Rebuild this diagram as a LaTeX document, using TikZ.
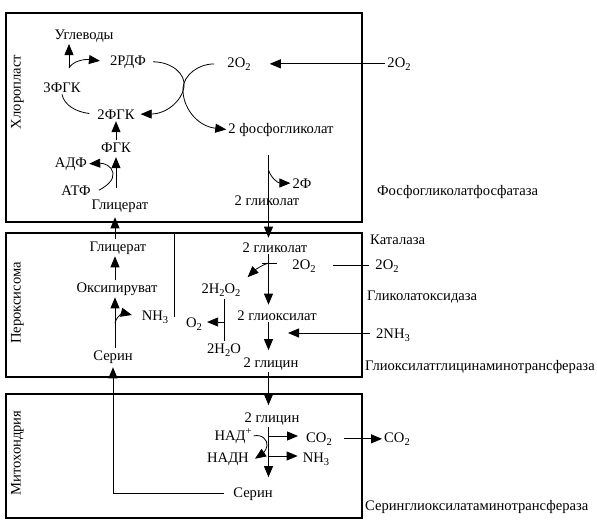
\documentclass[tikz,border=0pt]{standalone}
\usepackage{fontspec}
\setmainfont{Liberation Serif}
\usetikzlibrary{arrows.meta}
\newcommand\dn[1]{\raisebox{-0.5ex}{\fontsize{10.5}{10}\selectfont #1}}
\newcommand\upx[1]{\raisebox{0.8ex}{\fontsize{10.5}{10}\selectfont #1}}
\begin{document}
\begin{tikzpicture}[x=1pt,y=-1pt,
  every node/.style={font=\fontsize{14.6}{16}\selectfont, inner sep=2pt, anchor=base},
  vlbl/.style={rotate=90, anchor=center},
  enz/.style={anchor=base west, inner sep=0pt},
  arr/.style={line width=0.8pt, -{Triangle[length=11pt,width=9pt]}},
  ln/.style={line width=0.8pt},
  box/.style={line width=1.1pt}]
\useasboundingbox (0,0) rectangle (597,522);
\fill[white] (0,0) rectangle (597,522);

% compartments
\draw[box] (6,222) -- (6,13) -- (362,13) -- (362,222);
\draw[line width=2.4pt] (5,222) -- (363,222);
\draw[box] (6,233) rectangle (362,377);
\draw[box] (6,394) rectangle (362,518);

% columns
\coordinate (cP) at (115,0);
\coordinate (cR) at (268.5,0);
\coordinate (cH) at (224,0);

% ---------- chloroplast ----------
\node[vlbl] (chl) at (17.5,92) {Хлоропласт};
\node (uglev) at (84,39) {Углеводы};
\node (rdf) at (128,65) {2РДФ};
\node (o2a) at (239,67) {2O\dn{2}};
\node (o2b) at (399,67) {2O\dn{2}};
\node (fgk3) at (62,92) {3ФГК};
\node (fgk2) at (116,119) {2ФГК};
\node (pgl) at (281,133) {2 фосфогликолат};
\node (fgk) at (116,152) {ФГК};
\node (adf) at (71,167) {АДФ};
\node (atf) at (76,195) {АТФ};
\node (glc1) at (120,209) {Глицерат};
\node (f2) at (302,188) {2Ф};
\node (gl1) at (267,205) {2 гликолат};
\node[enz] (e1) at (377,195) {Фосфогликолатфосфатаза};

% ---------- peroxisome ----------
\node[vlbl] (per) at (17.5,303) {Пероксисома};
\node (glc2) at (118,251) {Глицерат};
\node (oxp) at (117,292) {Оксипируват};
\node (nh3a) at (155,320) {NH\dn{3}};
\node (serP) at (113,360) {Серин};
\node (gl2) at (275,252) {2 гликолат};
\node (o2c) at (304,269) {2O\dn{2}};
\node (o2d) at (387,269) {2O\dn{2}};
\node[enz] (e2) at (370,244) {Каталаза};
\node[enz] (e3) at (367,300) {Гликолатоксидаза};
\node (h2o2) at (221,293) {2H\dn{2}O\dn{2}};
\node (o2e) at (194,327) {O\dn{2}};
\node (h2o) at (224,353) {2H\dn{2}O};
\node (glx) at (277,320) {2 глиоксилат};
\node (nh3b) at (393,338) {2NH\dn{3}};
\node (gly1) at (271,367) {2 глицин};
\node[enz] (e4) at (365,370) {Глиоксилатглицинаминотрансфераза};

% ---------- mitochondrion ----------
\node[vlbl] (mit) at (17.5,453) {Митохондрия};
\node (gly2) at (272,422) {2 глицин};
\node (nad) at (233,440) {НАД\upx{+}};
\node (nadh) at (228,462) {НАДН};
\node (co2a) at (319,442) {CO\dn{2}};
\node (nh3c) at (316,462) {NH\dn{3}};
\node (co2b) at (397,442) {CO\dn{2}};
\node (serM) at (253,497) {Серин};
\node[enz] (e5) at (365,510) {Серинглиоксилатаминотрансфераза};

% ---------- connectors: chloroplast ----------
\coordinate (k1) at (69,68);
\draw[arr] (k1) -- (k1 |- uglev.south);
\draw[arr, shorten >=8pt] (k1) .. controls (73,61) and (84,59) .. (rdf.west);
\draw[arr, shorten <=5pt, shorten >=4pt] (rdf.east) .. controls (172,62) and (186,74) .. (184,87)
   .. controls (182,101) and (166,114) .. (fgk2.east);
\draw[ln, shorten >=6pt] (fgk3.south) .. controls (64,105) and (76,112) .. (fgk2.west);
\draw[arr, shorten <=11pt] (o2a.west) .. controls (198,64) and (184,75) .. (183,88)
   .. controls (182,106) and (196,126) .. (pgl.west);
\draw[arr, shorten >=17pt] (o2b.west) -- (o2a.east);
\draw[arr] (fgk.north) -- (fgk2.south);
\draw[arr, shorten <=9pt, shorten >=3pt] (glc1.north -| fgk.south) -- (fgk.south);
\draw[arr] ([xshift=6pt]atf.east) .. controls (107,186) and (114,180) .. (113,173)
   .. controls (112,166) and (104,163) .. (adf.east);
\draw[arr, shorten <=17pt, shorten >=2.5pt] (pgl.south -| cR) -- (gl2.north -| cR);
\coordinate (k4) at (268.5,170);
\draw[arr] (k4) .. controls (271,178) and (278,183) .. (f2.west);

% ---------- connectors: peroxisome ----------
\draw[arr, shorten >=3pt] (glc2.north -| cP) -- (glc1.south -| cP);
\draw[arr] (oxp.north -| cP) -- (glc2.south -| cP);
\draw[arr] (serP.north -| cP) -- (oxp.south -| cP);
\coordinate (k3) at (115,323);
\draw[arr, shorten >=8pt] (k3) .. controls (117,315) and (124,313) .. (nh3a.west);
\draw[arr, shorten <=7pt, shorten >=2pt] (serM.west) -| (serP.south);
\draw[ln] (174,233) -- (174,317);
\draw[arr, shorten >=3.5pt] (gl2.south -| cR) -- (glx.north -| cR);
\coordinate (k5) at (268.5,263);
\draw[ln] (262,263) -- (277,263);
\draw[arr] (k5) .. controls (262,265) and (255,270) .. ([shift={(5,-4)}]h2o2.north east);
\draw[ln, shorten <=4pt, shorten >=15pt] (o2d.west) -- (o2c.east);
\draw[ln] (h2o2.south -| cH) -- (h2o.north -| cH);
\coordinate (k9) at (224,322);
\draw[arr, shorten >=3pt] (k9) -- (k9 -| o2e.east);
\draw[arr, shorten >=5pt] (glx.south -| cR) -- (gly1.north -| cR);
\coordinate (k6) at (288,333);
\coordinate (k6b) at (370,333);
\draw[arr] (k6b) -- (k6);
\draw[arr, shorten >=5pt] (gly1.south -| cR) -- (gly2.north -| cR);

% ---------- connectors: mitochondrion ----------
\draw[arr, shorten >=8pt] (gly2.south -| cR) -- (serM.north -| cR);
\coordinate (k7) at (268.5,436);
\draw[arr, shorten >=6pt] (k7) -- (k7 -| co2a.west);
\coordinate (k8) at (268.5,456);
\draw[arr, shorten >=3pt] (k8) -- (k8 -| nh3c.west);
\draw[arr, shorten <=10pt] (co2a.east) -- (co2b.west);
\draw[arr] (nad.east) .. controls (262,434) and (268,440) .. (267,446)
   .. controls (266,451) and (262,454) .. ([xshift=4pt]nadh.east);
\end{tikzpicture}
\end{document}
